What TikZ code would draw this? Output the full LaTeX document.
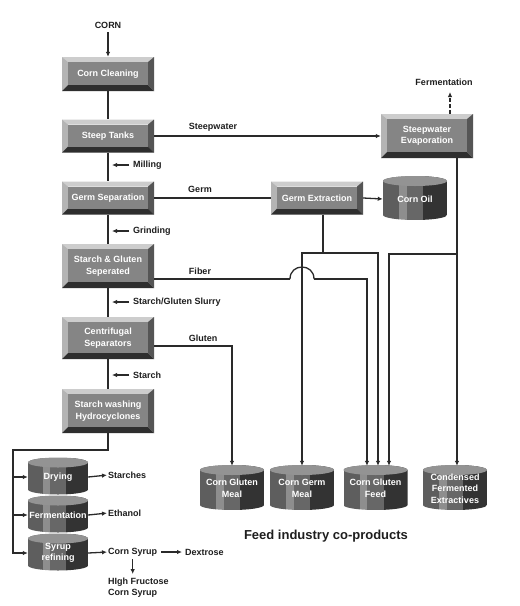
\documentclass[tikz,border=0pt]{standalone}
\usepackage{fontspec}
\setmainfont{Liberation Sans}
\usetikzlibrary{arrows.meta,calc}
\definecolor{face}{HTML}{858585}
\definecolor{bevtop}{HTML}{CDCDCD}
\definecolor{bevleft}{HTML}{B4B4B4}
\definecolor{bevright}{HTML}{555555}
\definecolor{bevbot}{HTML}{2E2E2E}
\definecolor{cylA}{HTML}{5E5E5E}
\definecolor{cylB}{HTML}{8E8E8E}
\definecolor{cylC}{HTML}{676767}
\definecolor{cylD}{HTML}{333333}
\definecolor{cyltop}{HTML}{939393}
\definecolor{linec}{HTML}{2A2A2A}
\definecolor{labc}{HTML}{1E1E1E}
\tikzset{
  flow/.style={line width=1.3pt, draw=linec},
  arr/.style={flow, -{Latex[length=5pt,width=4.5pt]}},
  lbl/.style={font=\bfseries\fontsize{9}{11}\selectfont, text=labc, inner sep=0pt},
  boxtext/.style={font=\bfseries\fontsize{9}{11.5}\selectfont, text=white, align=center, inner sep=0pt},
}
\newcommand\bevbox[6]{%
  \pgfmathsetmacro\bxL{#2-#4/2}\pgfmathsetmacro\bxR{#2+#4/2}%
  \pgfmathsetmacro\bxT{#3-#5/2}\pgfmathsetmacro\bxB{#3+#5/2}%
  \fill[bevtop] (\bxL,\bxT) -- (\bxR,\bxT) -- (\bxR-6,\bxT+5) -- (\bxL+6,\bxT+5) -- cycle;
  \fill[bevleft] (\bxL,\bxT) -- (\bxL+6,\bxT+5) -- (\bxL+6,\bxB-6) -- (\bxL,\bxB) -- cycle;
  \fill[bevright] (\bxR,\bxT) -- (\bxR,\bxB) -- (\bxR-6,\bxB-6) -- (\bxR-6,\bxT+5) -- cycle;
  \fill[bevbot] (\bxL,\bxB) -- (\bxR,\bxB) -- (\bxR-6,\bxB-6) -- (\bxL+6,\bxB-6) -- cycle;
  \fill[face] (\bxL+6,\bxT+5) rectangle (\bxR-6,\bxB-6);
  \node[boxtext, minimum width=#4pt, minimum height=#5pt] (#1) at (#2,#3) {#6};
}
\newcommand\mycyl[6]{%
  \pgfmathsetmacro\cyL{#2-#4/2}\pgfmathsetmacro\cyR{#2+#4/2}%
  \pgfmathsetmacro\cyT{#3-#5/2}\pgfmathsetmacro\cyB{#3+#5/2}%
  \pgfmathsetmacro\cyRx{#4/2}%
  \begin{scope}
    \clip (\cyL,\cyT+5) -- (\cyL,\cyB-5) arc[start angle=180,end angle=360,x radius=\cyRx pt,y radius=5pt]
      -- (\cyR,\cyT+5) arc[start angle=0,end angle=180,x radius=\cyRx pt,y radius=5pt] -- cycle;
    \fill[cylA] (\cyL,\cyT) rectangle ({\cyL+0.25*#4},\cyB);
    \fill[cylB] ({\cyL+0.25*#4},\cyT) rectangle ({\cyL+0.37*#4},\cyB);
    \fill[cylC] ({\cyL+0.37*#4},\cyT) rectangle ({\cyL+0.63*#4},\cyB);
    \fill[cylD] ({\cyL+0.63*#4},\cyT) rectangle (\cyR,\cyB);
  \end{scope}
  \fill[cyltop] (#2,\cyT+5) ellipse[x radius=\cyRx pt, y radius=5pt];
  \node[boxtext, minimum width=#4pt, minimum height=#5pt] (#1) at (#2,#3+1) {#6};
}
\begin{document}
\begin{tikzpicture}[x=1pt,y=-1pt]
\fill[white] (0,0) rectangle (520,606);
\useasboundingbox (0,0) rectangle (520,606);

% process boxes
\bevbox{cc}{108}{74}{92}{34}{Corn Cleaning}
\bevbox{st}{108}{136}{92}{33}{Steep Tanks}
\bevbox{gs}{108}{198}{92}{33}{Germ Separation}
\bevbox{sg}{108}{266}{92}{44}{Starch \& Gluten\\Seperated}
\bevbox{cs}{108}{338}{92}{42}{Centrifugal\\Separators}
\bevbox{sw}{108}{411}{92}{44}{Starch washing\\Hydrocyclones}
\bevbox{swe}{427}{136}{92}{44}{Steepwater\\Evaporation}
\bevbox{ge}{317}{198}{92}{33}{Germ Extraction}

% cylinders
\mycyl{oil}{415}{198}{64}{44}{Corn Oil}
\mycyl{dry}{58}{476}{60}{37}{Drying}
\mycyl{fer}{58}{514}{60}{37}{Fermentation}
\mycyl{syr}{58}{552}{60}{37}{Syrup\\refining}
\mycyl{cgm}{232}{487.5}{64}{45}{Corn Gluten\\Meal}
\mycyl{cgerm}{302}{487.5}{64}{45}{Corn Germ\\Meal}
\mycyl{cgf}{375.5}{487.5}{64}{45}{Corn Gluten\\Feed}
\mycyl{cfe}{455}{487.5}{64}{45}{Condensed\\Fermented\\Extractives}

% text labels
\node[lbl] (corn) at (108,25) {CORN};
\node[lbl] (ferm) at (444,82) {Fermentation};
\node[lbl] (lsteep) at (213,127) {Steepwater};
\node[lbl] (lgerm) at (200,189) {Germ};
\node[lbl] (lfiber) at (200,271) {Fiber};
\node[lbl] (lgluten) at (203,338) {Gluten};
\node[lbl, anchor=west] (mill) at (133,165) {Milling};
\node[lbl, anchor=west] (grind) at (133,231) {Grinding};
\node[lbl, anchor=west] (slurry) at (133,302) {Starch/Gluten Slurry};
\node[lbl, anchor=west] (starch) at (133,375) {Starch};
\node[lbl, anchor=west] (starches) at (108,475) {Starches};
\node[lbl, anchor=west] (ethanol) at (108,513) {Ethanol};
\node[lbl, anchor=west] (csyr) at (108,552) {Corn Syrup};
\node[lbl, anchor=west] (dex) at (185,552) {Dextrose};
\node[lbl, anchor=north west, align=left] (hfcs) at (108,578) {HIgh Fructose\\Corn Syrup};
\node[font=\bfseries\fontsize{13}{15}\selectfont, text=labc, inner sep=0pt] (feed) at (326,536) {Feed industry co-products};

% main chain
\draw[arr] ([yshift=-4pt]corn.south) -- (cc.north);
\draw[flow] (cc.south) -- (st.north);
\draw[flow] (st.south) -- (gs.north);
\draw[flow] (gs.south) -- (sg.north);
\draw[flow] (sg.south) -- (cs.north);
\draw[flow] (cs.south) -- (sw.north);

% side input arrows
\draw[arr] ([xshift=-4pt]mill.west) -- ++(-17pt,0);
\draw[arr] ([xshift=-4pt]grind.west) -- ++(-17pt,0);
\draw[arr] ([xshift=-4pt]slurry.west) -- ++(-17pt,0);
\draw[arr] ([xshift=-4pt]starch.west) -- ++(-17pt,0);

% steepwater / germ
\draw[arr] (st.east) -- (swe.west);
\draw[arr, dash pattern=on 3.5pt off 2.5pt] ([xshift=23pt]swe.north) -- ([xshift=23pt]swe.north |- 0,92);
\draw[flow] (gs.east) -- (ge.west);
\draw[arr] (ge.east) -- (oil.west);

% germ extraction to meal and feed
\coordinate (gj) at (323,253);
\draw[arr] ([xshift=6pt]ge.south) -- (gj) -| (cgerm.north);
\draw[arr] (gj) -| ([xshift=2.5pt]cgf.north);

% steepwater evaporation outputs
\coordinate (sj) at (457,254);
\draw[arr] ([xshift=30pt]swe.south) -- (sj) -- (sj |- cfe.north);
\draw[arr] (sj) -| ([xshift=13.5pt]cgf.north);

% fiber with hop-over
\coordinate (h1) at (290,279);
\coordinate (h2) at (314,279);
\coordinate (fc) at (367,279);
\draw[flow] ([yshift=-13pt]sg.east) -- (h1);
\draw[flow] (h1) .. controls (290,263) and (314,263) .. (h2);
\draw[arr] (h2) -- (fc) -- (fc |- cgf.north);

% gluten
\draw[arr] ([yshift=-8pt]cs.east) -- (232,346) -- (cgm.north);

% starch branch
\coordinate (bl) at (13,450);
\draw[arr] (sw.south) |- (bl) |- (syr.west);
\draw[arr] (bl |- dry.west) -- (dry.west);
\draw[arr] (bl |- fer.west) -- (fer.west);
\draw[arr, shorten >=1pt] (dry.east) -- (starches.west);
\draw[arr, shorten >=1pt] (fer.east) -- (ethanol.west);
\draw[arr, shorten >=1pt] (syr.east) -- (csyr.west);
\draw[arr] ([xshift=4pt]csyr.east) -- ([xshift=-3pt]dex.west);
\draw[arr] ([yshift=-3pt]csyr.south) -- ([yshift=4pt]csyr.south |- hfcs.north);
\end{tikzpicture}
\end{document}
